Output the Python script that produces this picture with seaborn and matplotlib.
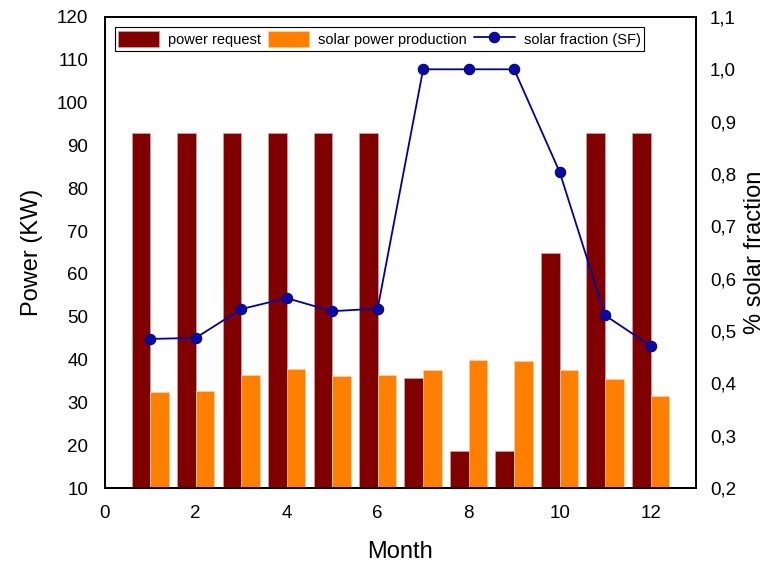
import numpy as np
import pandas as pd
import matplotlib
matplotlib.use("Agg")
import matplotlib.pyplot as plt
from matplotlib.ticker import FuncFormatter
import seaborn as sns

months = [1, 2, 3, 4, 5, 6, 7, 8, 9, 10, 11, 12]
power_request = [93, 93, 93, 93, 93, 93, 35.8, 18.7, 18.7, 65, 93, 93]
solar_production = [32.5, 32.7, 36.3, 37.9, 36.1, 36.4, 37.5, 40.0, 39.7, 37.6, 35.4, 31.5]
solar_fraction = [0.485, 0.487, 0.542, 0.563, 0.538, 0.543, 1.0, 1.0, 1.0, 0.804, 0.530, 0.472]

df = pd.DataFrame({"month": months, "request": power_request,
                   "production": solar_production, "sf": solar_fraction})

sns.set_style("white")
plt.rcParams["font.family"] = ["Liberation Sans", "DejaVu Sans"]
plt.rcParams.update({"text.color": "black", "axes.labelcolor": "black",
                     "xtick.color": "black", "ytick.color": "black"})

fig = plt.figure(figsize=(7.7, 5.65), dpi=100)
ax = fig.add_axes([0.136, 0.136, 0.768, 0.834])

w = 0.41
ax.bar(df["month"], np.array(power_request) - 10, width=-w, bottom=10, align="edge",
       color="#800000", edgecolor="#d9a0a0", linewidth=0.5, label="power request")
ax.bar(df["month"], np.array(solar_production) - 10, width=w, bottom=10, align="edge",
       color="#ff8000", edgecolor="#ffd0a0", linewidth=0.5, label="solar power production")

ax.set_xlim(0, 13)
ax.set_ylim(10, 120)
ax.set_xticks([0, 2, 4, 6, 8, 10, 12])
ax.set_yticks(np.arange(10, 121, 10))
ax.set_xlabel("Month", fontsize=17, labelpad=14)
ax.set_ylabel("Power (KW)", fontsize=17, labelpad=10)
ax.tick_params(axis="both", length=0, labelsize=13.5)
ax.tick_params(axis="x", pad=12)
ax.tick_params(axis="y", pad=12)

ax2 = ax.twinx()
sns.lineplot(data=df, x="month", y="sf", ax=ax2, color="#0000a0", linewidth=1.3,
             marker="o", markersize=7.5, markerfacecolor="#0a0aa8",
             markeredgecolor="#000080", label="solar fraction (SF)", legend=False)
ax2.set_ylim(0.2, 1.1)
ax2.set_yticks(np.arange(0.2, 1.101, 0.1))
ax2.yaxis.set_major_formatter(FuncFormatter(lambda v, p: f"{v:.1f}".replace(".", ",")))
ax2.set_ylabel("% solar fraction", fontsize=17, labelpad=6)
ax2.tick_params(axis="y", length=0, labelsize=13.5, pad=10)
ax2.set_xlabel("")

for a in (ax, ax2):
    for s in a.spines.values():
        s.set_color("black")
        s.set_linewidth(1.3)

h1, l1 = ax.get_legend_handles_labels()
h2, l2 = ax2.get_legend_handles_labels()
leg = ax2.legend(h1 + h2, l1 + l2, loc="upper left", ncol=3, fontsize=10.5,
                 frameon=True, fancybox=False, edgecolor="black", borderpad=0.25,
                 handlelength=2.8, handleheight=1.35, columnspacing=0.5,
                 handletextpad=0.6, bbox_to_anchor=(0.017, 0.978), borderaxespad=0,
                 framealpha=1)
leg.get_frame().set_linewidth(0.8)

fig.savefig("out.png", dpi=100)
